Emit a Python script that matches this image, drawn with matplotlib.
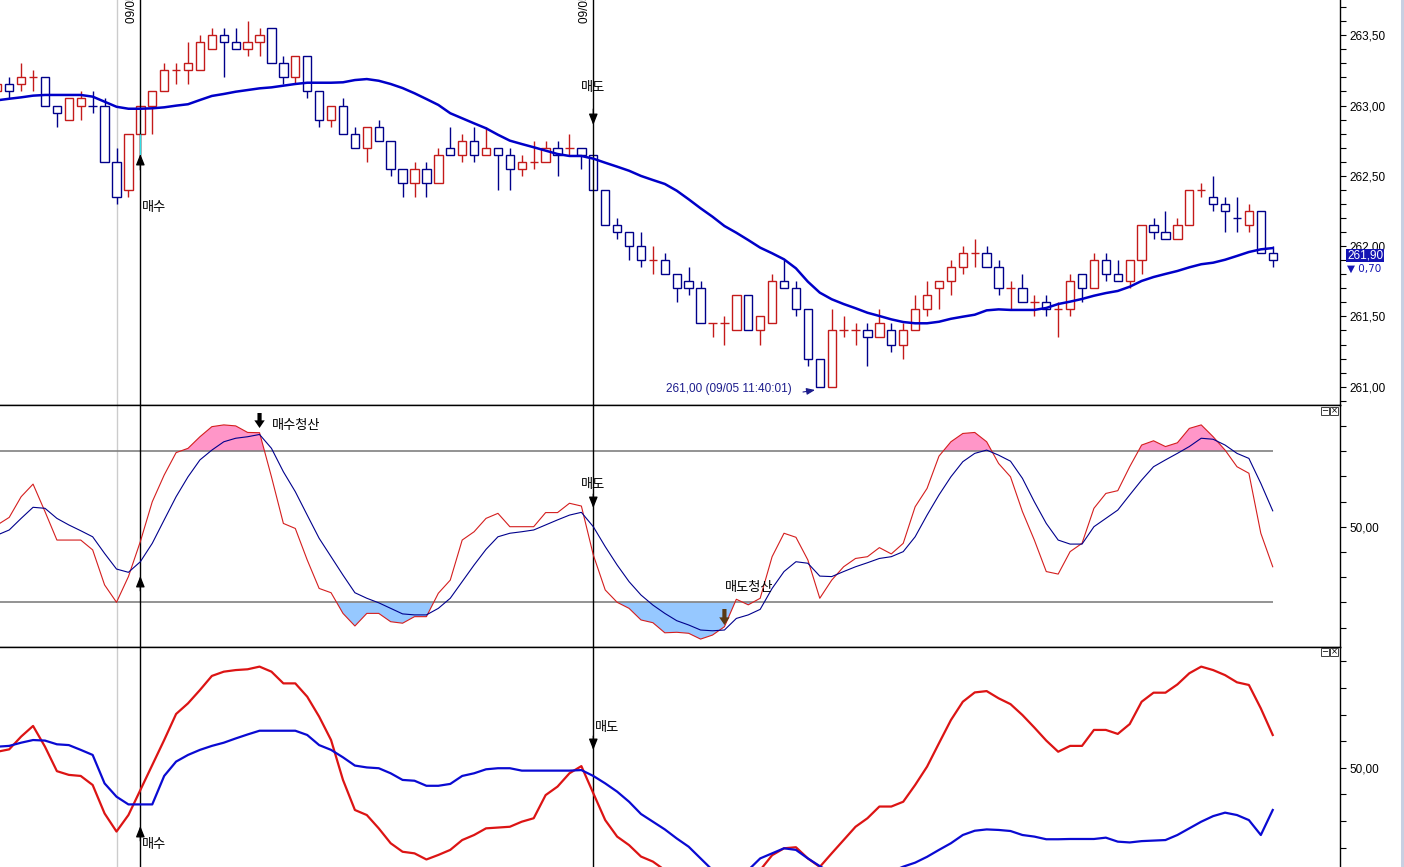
import matplotlib
matplotlib.use('Agg')
import matplotlib.pyplot as plt
import numpy as np
from matplotlib.patches import Rectangle
from matplotlib.transforms import blended_transform_factory

# ---------------- data ----------------
opens = [263.10, 263.15, 263.15, 263.20, 263.20, 263.00, 262.90, 263.00, 263.00, 263.00,
         262.60, 262.40, 262.80, 263.00, 263.10, 263.25, 263.25, 263.25, 263.40, 263.50,
         263.45, 263.40, 263.45, 263.55, 263.30, 263.20, 263.35, 263.10, 262.90, 263.00,
         262.80, 262.70, 262.85, 262.75, 262.55, 262.45, 262.55, 262.45, 262.70, 262.65,
         262.75, 262.65, 262.70, 262.65, 262.55, 262.60, 262.60, 262.70, 262.70, 262.70,
         262.65, 262.40, 262.15, 262.10, 262.00, 261.90, 261.90, 261.80, 261.75, 261.70,
         261.45, 261.45, 261.40, 261.65, 261.40, 261.45, 261.75, 261.70, 261.55, 261.20,
         261.00, 261.40, 261.40, 261.40, 261.35, 261.40, 261.30, 261.40, 261.55, 261.70,
         261.75, 261.85, 261.95, 261.95, 261.85, 261.70, 261.70, 261.60, 261.60, 261.55,
         261.55, 261.80, 261.70, 261.90, 261.80, 261.75, 261.90, 262.15, 262.10, 262.05,
         262.15, 262.40, 262.35, 262.30, 262.20, 262.15, 262.25, 261.95]
highs = [263.15, 263.20, 263.30, 263.25, 263.20, 263.00, 263.05, 263.10, 263.10, 263.05,
         262.70, 262.80, 263.00, 263.10, 263.30, 263.30, 263.45, 263.50, 263.55, 263.55,
         263.55, 263.60, 263.55, 263.55, 263.35, 263.35, 263.35, 263.10, 263.00, 263.05,
         262.85, 262.85, 262.90, 262.75, 262.55, 262.60, 262.60, 262.70, 262.85, 262.80,
         262.85, 262.85, 262.70, 262.70, 262.65, 262.75, 262.75, 262.75, 262.80, 262.70,
         262.65, 262.40, 262.20, 262.10, 262.10, 262.00, 261.95, 261.80, 261.85, 261.75,
         261.45, 261.50, 261.65, 261.65, 261.50, 261.80, 261.90, 261.75, 261.55, 261.20,
         261.55, 261.50, 261.45, 261.45, 261.55, 261.45, 261.45, 261.65, 261.75, 261.75,
         261.90, 262.00, 262.05, 262.00, 261.90, 261.75, 261.80, 261.65, 261.65, 261.60,
         261.80, 261.80, 261.95, 261.95, 261.90, 261.90, 262.15, 262.20, 262.25, 262.20,
         262.40, 262.45, 262.50, 262.35, 262.35, 262.30, 262.25, 262.00]
lows = [263.10, 263.05, 263.10, 263.10, 263.00, 262.85, 262.90, 262.90, 262.95, 262.60,
        262.30, 262.35, 262.65, 262.80, 263.10, 263.15, 263.15, 263.25, 263.40, 263.20,
        263.40, 263.35, 263.35, 263.30, 263.15, 263.15, 263.05, 262.85, 262.85, 262.80,
        262.70, 262.60, 262.75, 262.50, 262.35, 262.35, 262.35, 262.45, 262.65, 262.60,
        262.60, 262.65, 262.40, 262.40, 262.50, 262.55, 262.60, 262.50, 262.65, 262.55,
        262.40, 262.15, 262.05, 261.90, 261.85, 261.80, 261.80, 261.60, 261.65, 261.45,
        261.35, 261.30, 261.40, 261.40, 261.30, 261.45, 261.70, 261.50, 261.15, 261.00,
        261.00, 261.35, 261.30, 261.15, 261.35, 261.25, 261.20, 261.40, 261.50, 261.55,
        261.65, 261.80, 261.85, 261.85, 261.65, 261.55, 261.60, 261.50, 261.50, 261.35,
        261.50, 261.60, 261.70, 261.75, 261.75, 261.70, 261.80, 262.05, 262.05, 262.05,
        262.15, 262.35, 262.25, 262.10, 262.10, 262.10, 261.95, 261.85]
closes = [263.15, 263.10, 263.20, 263.20, 263.00, 262.95, 263.05, 263.05, 263.00, 262.60,
          262.35, 262.80, 263.00, 263.10, 263.25, 263.25, 263.30, 263.45, 263.50, 263.45,
          263.40, 263.45, 263.50, 263.30, 263.20, 263.35, 263.10, 262.90, 263.00, 262.80,
          262.70, 262.85, 262.75, 262.55, 262.45, 262.55, 262.45, 262.65, 262.65, 262.75,
          262.65, 262.70, 262.65, 262.55, 262.60, 262.60, 262.70, 262.65, 262.70, 262.65,
          262.40, 262.15, 262.10, 262.00, 261.90, 261.90, 261.80, 261.70, 261.70, 261.45,
          261.45, 261.45, 261.65, 261.40, 261.50, 261.75, 261.70, 261.55, 261.20, 261.00,
          261.40, 261.40, 261.40, 261.35, 261.45, 261.30, 261.40, 261.55, 261.65, 261.75,
          261.85, 261.95, 261.95, 261.85, 261.70, 261.70, 261.60, 261.60, 261.55, 261.55,
          261.75, 261.70, 261.90, 261.80, 261.75, 261.90, 262.15, 262.10, 262.05, 262.15,
          262.40, 262.40, 262.30, 262.25, 262.20, 262.25, 261.95, 261.90]
ma_line = [263.037, 263.048, 263.058, 263.070, 263.075, 263.075, 263.075, 263.075, 263.063, 263.027,
           262.991, 262.977, 262.977, 262.980, 262.987, 262.999, 263.009, 263.039, 263.068, 263.082,
           263.098, 263.110, 263.122, 263.129, 263.141, 263.153, 263.162, 263.162, 263.162, 263.165,
           263.181, 263.188, 263.176, 263.153, 263.124, 263.087, 263.046, 263.004, 262.945, 262.909,
           262.873, 262.838, 262.792, 262.750, 262.726, 262.703, 262.679, 262.655, 262.641, 262.641,
           262.622, 262.593, 262.565, 262.536, 262.499, 262.470, 262.442, 262.394, 262.333, 262.269,
           262.209, 262.143, 262.095, 262.043, 261.989, 261.949, 261.906, 261.842, 261.747, 261.669,
           261.622, 261.588, 261.558, 261.526, 261.503, 261.479, 261.460, 261.451, 261.451, 261.462,
           261.483, 261.498, 261.512, 261.543, 261.550, 261.546, 261.546, 261.546, 261.560, 261.588,
           261.605, 261.624, 261.647, 261.666, 261.681, 261.711, 261.752, 261.780, 261.802, 261.823,
           261.849, 261.871, 261.882, 261.903, 261.930, 261.958, 261.977, 261.986]
stoch_k = [50.7, 53.7, 61.9, 66.9, 56.0, 44.7, 44.7, 44.7, 40.8, 26.9,
           20.0, 30.2, 44.1, 59.9, 70.5, 79.4, 81.1, 85.7, 89.7, 90.4,
           90.0, 87.4, 87.3, 69.8, 51.3, 49.3, 36.8, 25.5, 23.8, 15.6,
           10.6, 15.6, 15.6, 12.3, 11.7, 14.3, 14.3, 23.6, 28.8, 44.7,
           48.0, 53.3, 55.3, 50.0, 50.0, 50.0, 55.6, 55.6, 59.3, 58.2,
           38.8, 24.9, 20.0, 17.6, 13.0, 11.9, 7.9, 8.1, 7.7, 5.4,
           7.0, 10.3, 21.2, 19.0, 21.6, 38.1, 47.4, 45.8, 36.8, 21.6,
           28.8, 34.1, 37.4, 38.1, 41.7, 39.2, 43.4, 57.9, 65.2, 78.0,
           83.7, 87.0, 87.4, 83.7, 75.1, 69.8, 56.0, 44.7, 32.2, 31.2,
           40.1, 43.4, 57.3, 63.2, 64.3, 73.8, 82.4, 84.1, 81.8, 83.3,
           89.0, 90.4, 85.7, 80.4, 73.8, 71.2, 47.4, 34.1]
stoch_d = [46.7, 48.7, 53.3, 57.7, 57.3, 53.3, 50.7, 48.4, 46.0, 39.4,
           33.2, 31.9, 36.1, 43.4, 52.7, 61.9, 69.8, 76.5, 80.4, 83.7,
           85.1, 85.7, 86.6, 81.1, 71.8, 63.9, 54.6, 45.4, 38.1, 30.8,
           23.8, 21.6, 19.8, 17.6, 15.4, 15.0, 15.0, 17.6, 21.6, 28.2,
           34.8, 41.0, 46.0, 47.4, 48.0, 48.7, 50.7, 52.7, 54.6, 55.7,
           50.0, 42.1, 34.8, 28.2, 22.9, 18.9, 15.6, 12.7, 11.0, 9.0,
           8.7, 9.0, 13.6, 15.0, 17.2, 25.5, 32.2, 36.1, 35.5, 30.4,
           30.2, 32.2, 34.1, 35.7, 37.4, 38.1, 40.1, 46.0, 54.6, 62.6,
           69.8, 75.8, 79.1, 80.4, 78.4, 76.0, 69.2, 59.9, 51.3, 44.7,
           43.1, 43.1, 50.0, 53.3, 56.6, 62.6, 68.5, 73.8, 76.5, 79.1,
           81.8, 85.1, 84.7, 82.4, 79.1, 77.1, 67.2, 56.3]
osc_red = [56.0, 56.9, 61.7, 65.7, 57.9, 48.7, 47.3, 46.9, 43.5, 32.8,
           26.0, 32.2, 41.6, 51.0, 60.4, 70.2, 74.2, 79.2, 84.5, 86.1,
           86.7, 87.0, 88.0, 86.1, 81.7, 81.7, 76.7, 69.2, 60.4, 45.4,
           34.1, 32.2, 27.2, 21.6, 18.4, 17.8, 15.5, 17.2, 19.1, 22.8,
           24.7, 27.2, 27.5, 27.8, 29.7, 31.0, 39.7, 42.9, 47.9, 50.6,
           40.4, 30.3, 24.1, 20.9, 16.6, 14.7, 11.5, 10.0, 9.0, 8.5,
           8.5, 9.0, 9.5, 10.5, 11.5, 17.1, 19.7, 20.1, 15.9, 12.7,
           17.8, 22.8, 27.8, 31.0, 35.4, 35.4, 37.2, 43.5, 50.4, 59.2,
           67.9, 74.8, 78.3, 78.8, 76.1, 73.9, 69.8, 65.1, 60.2, 56.0,
           58.2, 58.2, 64.2, 64.2, 62.7, 66.4, 74.8, 78.2, 78.2, 81.3,
           85.5, 88.0, 86.7, 84.8, 82.1, 81.1, 72.3, 62.3]
osc_blue = [57.9, 58.2, 59.4, 60.4, 60.2, 58.8, 58.5, 56.7, 54.8, 44.1,
            39.1, 36.2, 36.2, 36.2, 46.9, 52.3, 54.8, 56.7, 58.2, 59.4,
            61.0, 62.5, 63.9, 63.9, 63.9, 63.9, 62.3, 58.5, 56.7, 53.9,
            50.8, 50.1, 49.8, 47.9, 45.4, 45.1, 43.2, 43.2, 43.9, 46.9,
            47.9, 49.4, 49.8, 49.8, 48.9, 48.9, 48.9, 48.9, 48.9, 49.1,
            46.9, 44.1, 41.0, 37.2, 32.6, 29.7, 26.8, 23.4, 20.3, 15.9,
            11.5, 9.0, 9.0, 11.5, 15.9, 17.8, 19.7, 19.1, 15.9, 13.0,
            10.3, 9.0, 8.4, 9.0, 9.7, 10.9, 12.8, 14.3, 16.5, 19.1,
            21.6, 24.7, 26.3, 26.8, 26.6, 26.2, 24.7, 24.1, 23.1, 23.1,
            23.2, 23.2, 23.2, 23.7, 22.2, 21.9, 22.4, 22.6, 22.8, 24.7,
            27.2, 29.7, 31.8, 33.1, 32.2, 30.3, 24.7, 34.1]
price_ticks = [261.0, 261.5, 262.0, 262.5, 263.0, 263.5]
stoch_levels = [20, 80]
buy_idx, sell_idx, ref_idx = 12, 50, 10
buy_exit_idx, sell_exit_idx = 22, 61
low_idx = 69
last_price, last_change = 261.90, 0.70

# ---------------- layout ----------------
W, H = 1404, 867
fig = plt.figure(figsize=(W / 100, H / 100), dpi=100)
fig.patch.set_facecolor('white')
STEP, X0 = 11.92, -2.7           # pixel spacing per candle, pixel x of candle 0
RIGHT = 1340
XL = ((0 - X0) / STEP, (RIGHT - X0) / STEP)

def fx(px): return px / W
def fy(py): return 1 - py / H
def pxi(px): return (px - X0) / STEP

ax1 = fig.add_axes([0, fy(405), fx(RIGHT), 405 / H])
ax2 = fig.add_axes([0, fy(646.7), fx(RIGHT), (646.7 - 405) / H])
ax3 = fig.add_axes([0, 0, fx(RIGHT), (867 - 646.7) / H])

ax1.set_ylim(261 + (386.7 - 405) / 140.6, 261 + 386.7 / 140.6)
ax2.set_ylim(50 + (526.7 - 646.7) / 2.52, 50 + (526.7 - 405) / 2.52)
ax3.set_ylim(50 + (767.7 - 867) / 2.66, 50 + (767.7 - 646.7) / 2.66)

RED, BLUE = '#c41a1a', '#00008a'
KOR = ['Noto Sans CJK KR', 'DejaVu Sans']
NUM = ['Liberation Sans', 'DejaVu Sans']
KFS = 9.5

fmt = lambda v: f"{v:.2f}".replace('.', ',')
for ax in (ax1, ax2, ax3):
    ax.set_xlim(*XL)
    ax.set_xticks([])
    ax.yaxis.tick_right()
    ax.tick_params(axis='y', which='both', direction='out', length=4, width=0.8,
                   labelsize=8.5, pad=3, colors='black')
    ax.spines['left'].set_visible(False)
    for s in ax.spines.values():
        s.set_linewidth(1.0)
        s.set_color('black')
    ax.axvline(ref_idx, color='#cccccc', lw=1.0, zorder=1)
    for xi in (buy_idx, sell_idx):
        ax.axvline(xi, color='black', lw=1.0, zorder=4)
ax1.spines['top'].set_visible(False)
ax3.spines['bottom'].set_visible(False)

# price axis
ax1.set_yticks(price_ticks)
ax1.set_yticklabels([fmt(v) for v in price_ticks], family=NUM, fontsize=8.5)
ax1.set_yticks(np.arange(260.9, 263.75, 0.1), minor=True)
# oscillator axes
ax2.set_yticks(np.arange(10, 100, 10))
ax2.set_yticklabels(['50,00' if v == 50 else '' for v in range(10, 100, 10)], family=NUM, fontsize=8.5)
ax3.set_yticks(np.arange(20, 100, 10))
ax3.set_yticklabels(['50,00' if v == 50 else '' for v in range(20, 100, 10)], family=NUM, fontsize=8.5)

THIN = dict(arrowstyle='-|>,head_length=0.55,head_width=0.22', color='black', lw=0.9,
            mutation_scale=12, shrinkA=0, shrinkB=0)

def arrow(ax, tb, x, y_tail, y_tip, props):
    ax.annotate('', xy=(x, fy(y_tip)), xytext=(x, fy(y_tail)), xycoords=tb, textcoords=tb,
                arrowprops=props, zorder=8)

# ---------------- candles ----------------
bw = 0.70
n = len(opens)
xs = np.arange(n)
for i in range(n):
    o, h, l, c = opens[i], highs[i], lows[i], closes[i]
    if c > o:
        col = RED
    elif c < o:
        col = BLUE
    else:
        col = RED if (i == 0 or c >= closes[i - 1]) else BLUE
    lo, hi = min(o, c), max(o, c)
    if l < lo:
        ax1.vlines(i, l, lo, color=col, lw=1.0, zorder=2)
    if h > hi:
        ax1.vlines(i, hi, h, color=col, lw=1.0, zorder=2)
    if hi > lo:
        ax1.add_patch(Rectangle((i - bw / 2, lo), bw, hi - lo, facecolor='white',
                                edgecolor=col, lw=1.0, zorder=3))
    else:
        ax1.hlines(o, i - bw / 2, i + bw / 2, color=col, lw=1.0, zorder=3)
# highlighted wick on the signal candle
ax1.vlines(buy_idx, lows[buy_idx], min(opens[buy_idx], closes[buy_idx]), color='#30e0e8', lw=1.0, zorder=5)
ax1.plot(xs, ma_line, color='#0000c8', lw=1.8, zorder=6)

tb1 = blended_transform_factory(ax1.transData, fig.transFigure)
ax1.text(buy_idx + 0.1, fy(207), '매수', transform=tb1, family=KOR, fontsize=KFS, ha='left', va='center', zorder=8)
arrow(ax1, tb1, buy_idx, 170, 154, THIN)
ax1.text(sell_idx, fy(88), '매도', transform=tb1, family=KOR, fontsize=KFS, ha='center', va='center', zorder=8)
arrow(ax1, tb1, sell_idx, 109, 125, THIN)
ax1.text(pxi(792), fy(389), f"{fmt(lows[low_idx])} (09/05 11:40:01)", transform=tb1, family=NUM,
         fontsize=8.5, color='#1c1c8c', ha='right', va='center', zorder=8)
ax1.annotate('', xy=(low_idx - 0.4, fy(390)), xytext=(pxi(803), fy(392)), xycoords=tb1, textcoords=tb1,
             arrowprops=dict(arrowstyle='-|>,head_length=0.5,head_width=0.2', color='#1c1c8c', lw=0.8,
                             mutation_scale=10, shrinkA=0, shrinkB=0), zorder=8)
for xi in (buy_idx, sell_idx):
    ax1.text(xi - 0.2, fy(23), '09/05 10:00', transform=tb1, family=NUM, fontsize=8.5, rotation=90,
             ha='right', va='bottom', clip_on=True, zorder=8)

# current price marker
tbr = blended_transform_factory(ax1.transAxes, fig.transFigure)
ax1.text(1.0 + 7 / RIGHT, fy(255.5), fmt(last_price), transform=tbr,
         family=NUM, fontsize=8.5, color='white', ha='left', va='center', zorder=12, clip_on=False,
         bbox=dict(boxstyle='square,pad=0.08', fc='#1414b4', ec='none'))
ax1.text(1.0 + 7 / RIGHT, fy(268.5), '▼ ' + fmt(last_change), transform=tbr,
         family=['DejaVu Sans'], fontsize=7.5, color='#1414b4', ha='left', va='center', zorder=12, clip_on=False)

# ---------------- stochastic panel ----------------
k = np.array(stoch_k)
d = np.array(stoch_d)
ax2.hlines(stoch_levels, XL[0], n - 1, color='#808080', lw=1.2, zorder=2)
ax2.fill_between(xs, k, stoch_levels[1], where=k > stoch_levels[1], interpolate=True,
                 color='#ff96c8', lw=0, zorder=1.5)
ax2.fill_between(xs, k, stoch_levels[0], where=k < stoch_levels[0], interpolate=True,
                 color='#96c8ff', lw=0, zorder=1.5)
ax2.plot(xs, k, color='#d41e1e', lw=0.8, zorder=5)
ax2.plot(xs, d, color='#00008c', lw=0.8, zorder=5)

tb2 = blended_transform_factory(ax2.transData, fig.transFigure)
arrow(ax2, tb2, buy_exit_idx, 413, 428,
      dict(arrowstyle='simple,head_length=0.55,head_width=0.75,tail_width=0.3', color='black',
           lw=0, mutation_scale=10, shrinkA=0, shrinkB=0))
ax2.text(pxi(272), fy(426), '매수청산', transform=tb2, family=KOR, fontsize=KFS, ha='left', va='center', zorder=8)
ax2.text(sell_idx, fy(484), '매도', transform=tb2, family=KOR, fontsize=KFS, ha='center', va='center', zorder=8)
arrow(ax2, tb2, sell_idx, 494, 508, THIN)
arrow(ax2, tb2, buy_idx, 591, 576, THIN)
ax2.text(pxi(725), fy(588), '매도청산', transform=tb2, family=KOR, fontsize=KFS, ha='left', va='center', zorder=8)
arrow(ax2, tb2, sell_exit_idx, 609, 625,
      dict(arrowstyle='simple,head_length=0.55,head_width=0.75,tail_width=0.3', color='#5a3a14',
           lw=0, mutation_scale=10, shrinkA=0, shrinkB=0))

# ---------------- lower oscillator panel ----------------
ax3.plot(xs, osc_red, color='#dc1414', lw=1.6, zorder=5)
ax3.plot(xs, osc_blue, color='#0a0ad2', lw=1.6, zorder=5)
tb3 = blended_transform_factory(ax3.transData, fig.transFigure)
ax3.text(sell_idx + 0.1, fy(727.5), '매도', transform=tb3, family=KOR, fontsize=KFS, ha='left', va='center', zorder=8)
arrow(ax3, tb3, sell_idx, 736, 750, THIN)
ax3.text(buy_idx + 0.1, fy(844.5), '매수', transform=tb3, family=KOR, fontsize=KFS, ha='left', va='center', zorder=8)
arrow(ax3, tb3, buy_idx, 841, 826, THIN)

# small panel buttons
for yb in (407, 648):
    for xb, sym in ((1321, '−'), (1330, '×')):
        fig.add_artist(Rectangle((fx(xb), fy(yb + 8)), 8 / W, 8 / H, transform=fig.transFigure,
                                 facecolor='white', edgecolor='#404040', lw=0.7))
        fig.text(fx(xb + 4), fy(yb + 4), sym, fontsize=6, ha='center', va='center', family=['DejaVu Sans'])

# right frame strip
fig.add_artist(Rectangle((fx(1401), 0), 3 / W, 1, transform=fig.transFigure,
                         facecolor='#c8d0e2', edgecolor='none'))

fig.savefig('out.png', dpi=100)
